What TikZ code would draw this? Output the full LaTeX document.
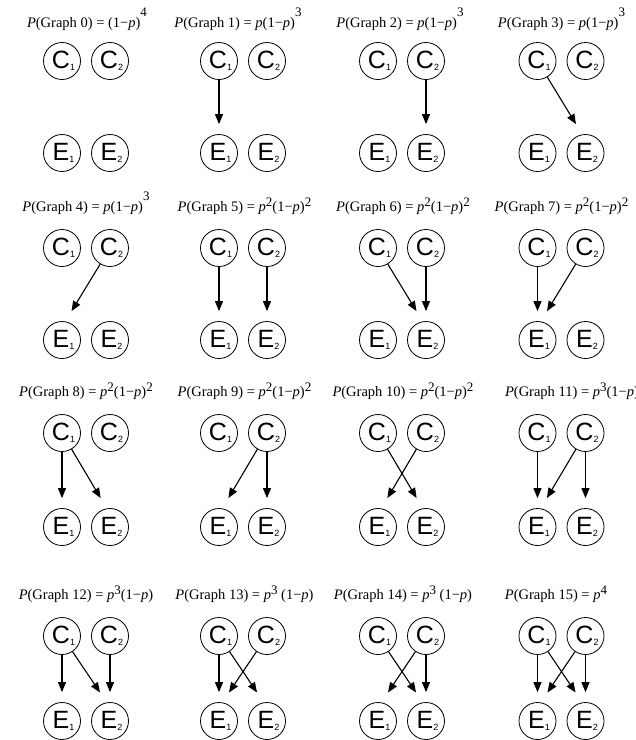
\documentclass[tikz,border=0pt]{standalone}
\usepackage{fontspec}
\usetikzlibrary{arrows.meta}
\setmainfont{Liberation Serif}
\newfontfamily\nodefont{Liberation Sans}
% small raised power (first graphs) and ordinary power
\newcommand{\hipow}[1]{\raisebox{11pt}{\fontsize{13}{13}\selectfont #1}}
\newcommand{\pw}[1]{\raisebox{5pt}{\fontsize{13}{13}\selectfont #1}}
\newcommand{\vname}[2]{\kern-2pt#1\rlap{\raisebox{-2.5pt}{\fontsize{9}{9}\selectfont #2}}}

\begin{document}
\begin{tikzpicture}[x=1pt, y=-1pt,
        vtx/.style={circle, draw, line width=0.8pt, inner sep=0pt, minimum size=37pt,
            font=\nodefont\fontsize{25}{25}\selectfont},
        ttl/.style={anchor=base, inner sep=0pt, font=\fontsize{14.5}{14.5}\selectfont},
        arr/.style={-{Triangle[length=10pt, width=8pt]}, line width=1.1pt, shorten >=10pt},
        skew/.style={shorten >=12pt}]
    \useasboundingbox (0,0) rectangle (636,740);
    % four graphs in each row, C above E
    \foreach \col/\cx in {0/62, 1/219, 2/378, 3/537.5}
      \foreach \row/\cy/\ey in {0/61/153, 1/248/340, 2/433/527, 3/636/721}{
        \pgfmathtruncatemacro{\g}{4*\row+\col}
        \node[vtx] (c1g\g) at (\cx,\cy) {\vname{C}{1}};
        \node[vtx] (c2g\g) at (\cx+48,\cy) {\vname{C}{2}};
        \node[vtx] (e1g\g) at (\cx,\ey) {\vname{E}{1}};
        \node[vtx] (e2g\g) at (\cx+48,\ey) {\vname{E}{2}};
      }
    % titles
    \node[ttl] (t0) at (87,27) {\textit{P}(Graph 0) = (1−\textit{p})\hipow{4}};
    \node[ttl] (t1) at (238,27) {\textit{P}(Graph 1) = \textit{p}(1−\textit{p})\hipow{3}};
    \node[ttl] (t2) at (400,27) {\textit{P}(Graph 2) = \textit{p}(1−\textit{p})\hipow{3}};
    \node[ttl] (t3) at (561.5,27) {\textit{P}(Graph 3) = \textit{p}(1−\textit{p})\hipow{3}};
    \node[ttl] (t4) at (86,211) {\textit{P}(Graph 4) = \textit{p}(1−\textit{p})\hipow{3}};
    \node[ttl] (t5) at (244.5,211) {\textit{P}(Graph 5) = \textit{p}\pw{2}(1−\textit{p})\pw{2}};
    \node[ttl] (t6) at (403,211) {\textit{P}(Graph 6) = \textit{p}\pw{2}(1−\textit{p})\pw{2}};
    \node[ttl] (t7) at (561.5,211) {\textit{P}(Graph 7) = \textit{p}\pw{2}(1−\textit{p})\pw{2}};
    \node[ttl] (t8) at (86,396) {\textit{P}(Graph 8) = \textit{p}\pw{2}(1−\textit{p})\pw{2}};
    \node[ttl] (t9) at (244.5,396) {\textit{P}(Graph 9) = \textit{p}\pw{2}(1−\textit{p})\pw{2}};
    \node[ttl] (t10) at (403,396) {\textit{P}(Graph 10) = \textit{p}\pw{2}(1−\textit{p})\pw{2}};
    \node[ttl] (t11) at (572,396) {\textit{P}(Graph 11) = \textit{p}\pw{3}(1−\textit{p})};
    \node[ttl] (t12) at (86,599) {\textit{P}(Graph 12) = \textit{p}\pw{3}(1−\textit{p})};
    \node[ttl] (t13) at (244.5,599) {\textit{P}(Graph 13) = \textit{p}\pw{3} (1−\textit{p})};
    \node[ttl] (t14) at (403,599) {\textit{P}(Graph 14) = \textit{p}\pw{3} (1−\textit{p})};
    \node[ttl] (t15) at (556,599) {\textit{P}(Graph 15) = \textit{p}\pw{4}};
    % arrows
    \draw[arr] (c1g1) -- (e1g1);
    \draw[arr] (c2g2) -- (e2g2);
    \draw[arr, skew] (c1g3) -- (e2g3.100);
    \draw[arr, skew] (c2g4) -- (e1g4.80);
    \draw[arr] (c1g5) -- (e1g5); \draw[arr] (c2g5) -- (e2g5);
    \draw[arr, skew] (c1g6) -- (e2g6.100); \draw[arr] (c2g6) -- (e2g6);
    \draw[arr] (c1g7) -- (e1g7); \draw[arr, skew] (c2g7) -- (e1g7.80);
    \draw[arr] (c1g8) -- (e1g8); \draw[arr, skew] (c1g8) -- (e2g8.100);
    \draw[arr, skew] (c2g9) -- (e1g9.80); \draw[arr] (c2g9) -- (e2g9);
    \draw[arr, skew] (c1g10) -- (e2g10.100); \draw[arr, skew] (c2g10) -- (e1g10.80);
    \draw[arr] (c1g11) -- (e1g11); \draw[arr, skew] (c2g11) -- (e1g11.80); \draw[arr] (c2g11) -- (e2g11);
    \draw[arr] (c1g12) -- (e1g12); \draw[arr, skew] (c1g12) -- (e2g12.100); \draw[arr] (c2g12) -- (e2g12);
    \draw[arr] (c1g13) -- (e1g13); \draw[arr, skew] (c1g13) -- (e2g13.100); \draw[arr, skew] (c2g13) -- (e1g13.80);
    \draw[arr, skew] (c1g14) -- (e2g14.100); \draw[arr, skew] (c2g14) -- (e1g14.80); \draw[arr] (c2g14) -- (e2g14);
    \draw[arr] (c1g15) -- (e1g15); \draw[arr, skew] (c1g15) -- (e2g15.100);
    \draw[arr, skew] (c2g15) -- (e1g15.80); \draw[arr] (c2g15) -- (e2g15);
\end{tikzpicture}
\end{document}
